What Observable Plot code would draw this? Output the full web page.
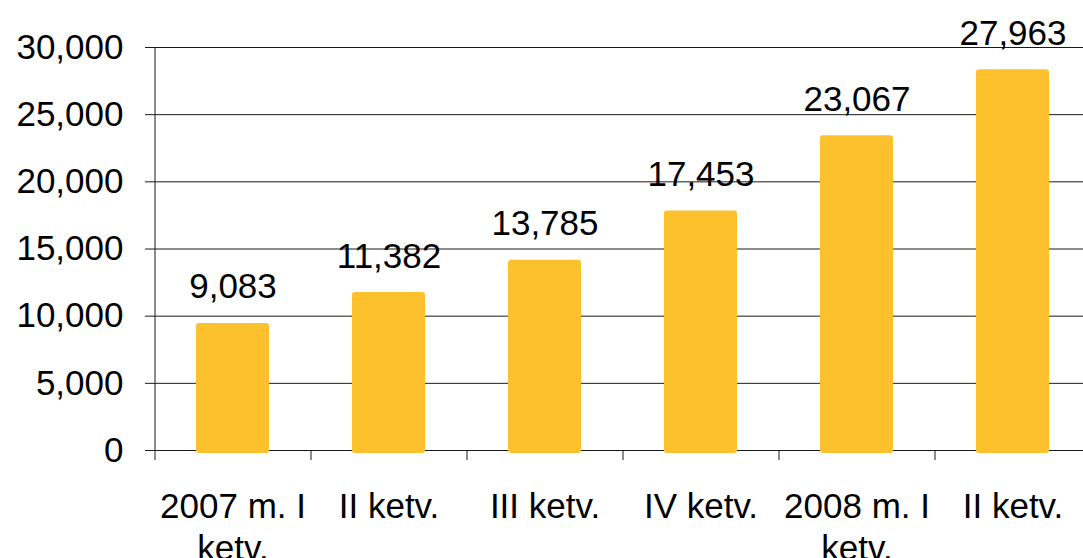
<!DOCTYPE html>
<html><head><meta charset="utf-8">
<script src="https://cdn.jsdelivr.net/npm/d3@7"></script>
<script src="https://cdn.jsdelivr.net/npm/@observablehq/plot@0.6"></script>
<style>html,body{margin:0;padding:0;background:#fff;overflow:hidden;} svg{max-width:none !important;}</style>
</head><body><div id="chart"></div>
<script>
const categories = ["2007 m. I\nketv.", "II ketv.", "III ketv.", "IV ketv.", "2008 m. I\nketv.", "II ketv."];
const values = [9083, 11382, 13785, 17453, 23067, 27963];
const yTicks = [0, 5000, 10000, 15000, 20000, 25000, 30000];

const data = values.map((v, i) => ({i, v}));
const idx = d3.range(categories.length);
const fmt = d3.format(",");

const W = 1091, ML = 155, MR = 0;
const step = (W - ML - MR) / categories.length;
const ink = "#1a1a1a";

const chart = Plot.plot({
  width: W, height: 558,
  marginTop: 47, marginBottom: 108, marginLeft: ML, marginRight: MR,
  style: {fontFamily: "'Liberation Sans', Arial, sans-serif", fontSize: "35px", color: "#000", background: "#fff"},
  x: {type: "band", domain: idx, paddingInner: 0.53, paddingOuter: 0.265, align: 0.5},
  y: {domain: [0, 30000]},
  marks: [
    Plot.gridY(yTicks, {stroke: ink, strokeOpacity: 1}),
    Plot.ruleY([0], {stroke: ink, insetLeft: -10}),
    Plot.barY(data, {x: "i", y: "v", fill: "#FDC12D", rx: 3, insetTop: -5, insetBottom: -3}),
    Plot.ruleX(idx, {x: d => d, y1: d => d === 0 ? 30000 : 0, y2: 0, dx: -step / 2, insetBottom: -10, stroke: ink}),
    Plot.axisY(yTicks, {tickSize: 10, tickPadding: 22, tickFormat: fmt, fontSize: 35, label: null, stroke: ink}),
    Plot.axisX(idx, {tickSize: 0, tickPadding: 38, tickFormat: i => categories[i], fontSize: 35, label: null, lineHeight: 1.2}),
    Plot.text(data, {x: "i", y: "v", text: d => fmt(d.v), dy: -30, lineAnchor: "bottom", fontSize: 35, fill: "#000"})
  ]
});
chart.style.maxWidth = "none";
document.getElementById("chart").appendChild(chart);
</script>
</body></html>
